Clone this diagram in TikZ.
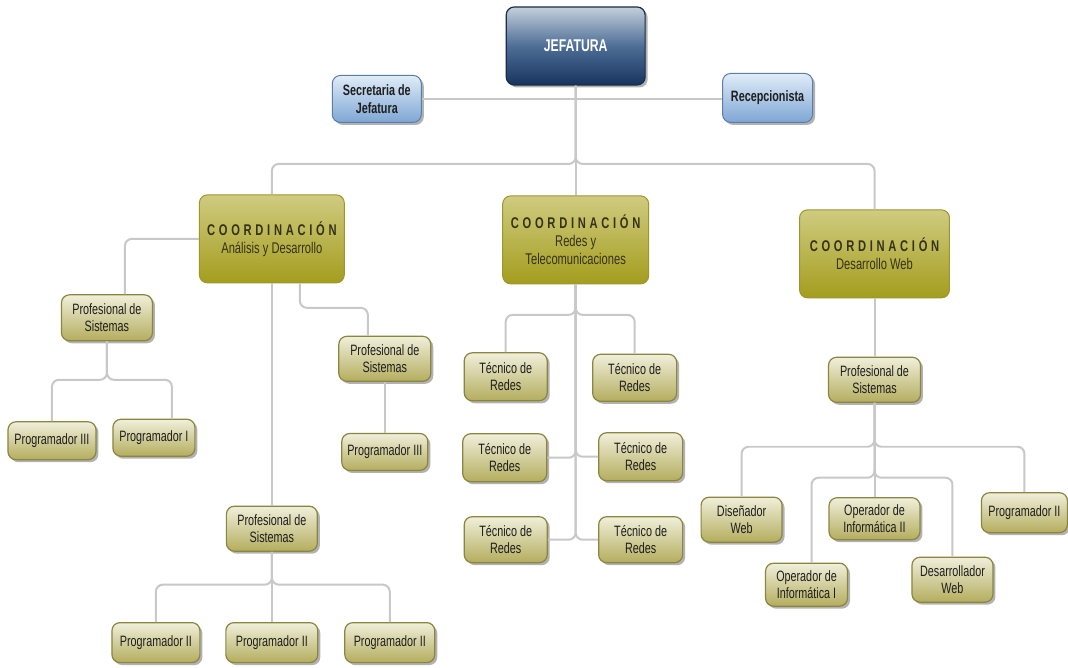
\documentclass[tikz,border=0pt]{standalone}
\usepackage{fontspec}
\setmainfont{Liberation Sans}[FakeStretch=0.72]
\newfontfamily\spacedfont{Liberation Sans}[FakeStretch=0.72, LetterSpace=24]
\usetikzlibrary{positioning,shadows}

\definecolor{linea}{HTML}{C8C8C8}
\definecolor{jefetop}{HTML}{C4CFDC}
\definecolor{jefemid}{HTML}{4E6E96}
\definecolor{jefebot}{HTML}{17345E}
\definecolor{jefeborde}{HTML}{1A2C46}
\definecolor{apoyotop}{HTML}{E0ECF8}
\definecolor{apoyobot}{HTML}{7EA6D4}
\definecolor{apoyoborde}{HTML}{5C7EA6}
\definecolor{coordtop}{HTML}{D0CB80}
\definecolor{coordbot}{HTML}{A49D1E}
\definecolor{coordborde}{HTML}{9C962E}
\definecolor{cargotop}{HTML}{F0EFDA}
\definecolor{cargobot}{HTML}{B4AD5E}
\definecolor{cargoborde}{HTML}{8A8640}
\definecolor{texto}{HTML}{1E1E1E}
\definecolor{coordtexto}{HTML}{35321A}

\newcommand{\coordtitulo}[1]{{\spacedfont\bfseries COORDINACIÓN}\\#1}

\begin{document}
\begin{tikzpicture}[x=1pt, y=-1pt,
    enlace/.style={draw=linea, line width=2pt, rounded corners=7pt},
    sombra/.style={drop shadow={shadow xshift=2.5pt, shadow yshift=-2.5pt, fill=black, opacity=0.3}},
    jefe/.style={rectangle, rounded corners=8pt, draw=jefeborde, line width=1.2pt,
      top color=jefetop, bottom color=jefebot, middle color=jefemid, sombra,
      text=white, font=\bfseries\fontsize{17}{20}\selectfont,
      minimum width=139pt, minimum height=78pt},
    apoyo/.style={rectangle, rounded corners=8pt, draw=apoyoborde, line width=1pt,
      top color=apoyotop, bottom color=apoyobot, sombra, align=center,
      text=texto, font=\bfseries\fontsize{15}{17.5}\selectfont,
      minimum width=89pt, minimum height=47pt, inner sep=2pt},
    coord/.style={rectangle, rounded corners=8pt, draw=coordborde, line width=1pt,
      top color=coordtop, bottom color=coordbot, align=center,
      text=coordtexto, font=\fontsize{15.5}{18}\selectfont,
      minimum width=146pt, minimum height=88pt, inner sep=2pt},
    cargo/.style={rectangle, rounded corners=8pt, draw=cargoborde, line width=1.2pt,
      top color=cargotop, bottom color=cargobot, sombra, align=center,
      text=texto, font=\fontsize{15}{17.5}\selectfont,
      minimum width=88pt, minimum height=44pt, inner sep=2pt}]

  \fill[white] (0,0) rectangle (1068,668);

  % jefatura y apoyo
  \node[jefe] (jef) at (576,46) {JEFATURA};
  \node[apoyo] (sec) at (377,99) {Secretaria de\\Jefatura};
  \node[apoyo, minimum width=90pt, minimum height=49pt] (rec) at (768,98) {Recepcionista};

  % coordinaciones
  \node[coord, minimum width=145pt] (coordA) at (272,239) {\coordtitulo{Análisis y Desarrollo}};
  \node[coord] (coordB) at (576,240) {\coordtitulo{Redes y\\Telecomunicaciones}};
  \node[coord, minimum width=150pt] (coordC) at (875,254) {\coordtitulo{Desarrollo Web}};

  % analisis y desarrollo
  \node[cargo, minimum width=91pt, minimum height=46pt] (profA) at (107,318) {Profesional de\\Sistemas};
  \node[cargo, minimum height=38pt] (progA1) at (52,441) {Programador III};
  \node[cargo, minimum width=82pt, minimum height=37pt] (progA2) at (154,438) {Programador I};
  \node[cargo, minimum width=92pt, minimum height=45pt] (profB) at (385,359) {Profesional de\\Sistemas};
  \node[cargo, minimum width=86pt, minimum height=37pt, below=51pt of profB] (progB) {Programador III};
  \node[cargo, minimum width=91pt, minimum height=45pt] (profC) at (272,529) {Profesional de\\Sistemas};
  \node[cargo, minimum height=40pt] (progC1) at (156,643) {Programador II};
  \node[cargo, minimum width=92pt, minimum height=40pt] (progC2) at (272,643) {Programador II};
  \node[cargo, minimum width=90pt, minimum height=40pt] (progC3) at (390,643) {Programador II};

  % redes y telecomunicaciones
  \node[cargo, minimum width=83pt, minimum height=48pt] (tec1) at (506,377) {Técnico de\\Redes};
  \node[cargo, minimum width=84pt, minimum height=47pt] (tec2) at (635,378) {Técnico de\\Redes};
  \node[cargo, minimum width=84pt, minimum height=48pt] (tec3) at (505,458) {Técnico de\\Redes};
  \node[cargo, minimum width=84pt, minimum height=48pt] (tec4) at (641,457) {Técnico de\\Redes};
  \node[cargo, minimum width=83pt, minimum height=46pt] (tec5) at (506,540) {Técnico de\\Redes};
  \node[cargo, minimum width=84pt, minimum height=46pt] (tec6) at (641,540) {Técnico de\\Redes};

  % desarrollo web
  \node[cargo, minimum width=92pt, minimum height=45pt] (profD) at (875,380) {Profesional de\\Sistemas};
  \node[cargo, minimum width=81pt, minimum height=45pt] (dis) at (742,520) {Diseñador\\Web};
  \node[cargo, minimum width=91pt, minimum height=42pt] (opII) at (875,519) {Operador de\\Informática II};
  \node[cargo, minimum width=86pt, minimum height=40pt] (progD) at (1025,513) {Programador II};
  \node[cargo, minimum width=82pt, minimum height=43pt] (opI) at (807,585) {Operador de\\Informática I};
  \node[cargo, minimum width=81pt, minimum height=45pt] (des) at (953,580) {Desarrollador\\Web};

  % niveles de las uniones
  \coordinate (jTop) at (0,164);
  \coordinate (jB) at (0,308);
  \coordinate (jA) at (0,380);
  \coordinate (jC) at (0,585);
  \coordinate (jM) at (0,315);
  \coordinate (jD1) at (0,447);
  \coordinate (jD2) at (0,478);

  % conectores
  \draw[enlace] (sec.east) -- (rec.west |- sec.east);
  \draw[enlace] (jef.south) -- (coordB.north);
  \draw[enlace] (jef.south) |- (coordA.north |- jTop) -- (coordA.north);
  \draw[enlace] (jef.south) |- (coordC.north |- jTop) -- (coordC.north);

  \draw[enlace] (coordA.west) -| ([xshift=18pt]profA.north);
  \draw[enlace] (profA.south) |- (progA1.north |- jA) -- (progA1.north);
  \draw[enlace] (profA.south) |- ([xshift=18pt]progA2.north |- jA) -- ([xshift=18pt]progA2.north);
  \draw[enlace] ([xshift=28pt]coordA.south) |- ([xshift=-17pt]profB.north |- jB) -- ([xshift=-17pt]profB.north);
  \draw[enlace] (profB.south) -- (progB.north);
  \draw[enlace] (coordA.south) -- (profC.north);
  \draw[enlace] (profC.south) -- (progC2.north);
  \draw[enlace] (profC.south) |- (progC1.north |- jC) -- (progC1.north);
  \draw[enlace] (profC.south) |- (progC3.north |- jC) -- (progC3.north);

  \draw[enlace] (coordB.south) |- (tec1.north |- jM) -- (tec1.north);
  \draw[enlace] (coordB.south) |- (tec2.north |- jM) -- (tec2.north);
  \draw[enlace] (coordB.south) |- (tec3.east);
  \draw[enlace] (coordB.south) |- (tec4.west);
  \draw[enlace] (coordB.south) |- (tec5.east);
  \draw[enlace] (coordB.south) |- (tec6.west);

  \draw[enlace] (coordC.south) -- (profD.north);
  \draw[enlace] (profD.south) -- (opII.north);
  \draw[enlace] (profD.south) |- (dis.north |- jD1) -- (dis.north);
  \draw[enlace] (profD.south) |- (progD.north |- jD1) -- (progD.north);
  \draw[enlace] (profD.south) |- ([xshift=5pt]opI.north |- jD2) -- ([xshift=5pt]opI.north);
  \draw[enlace] (profD.south) |- (des.north |- jD2) -- (des.north);
\end{tikzpicture}
\end{document}
